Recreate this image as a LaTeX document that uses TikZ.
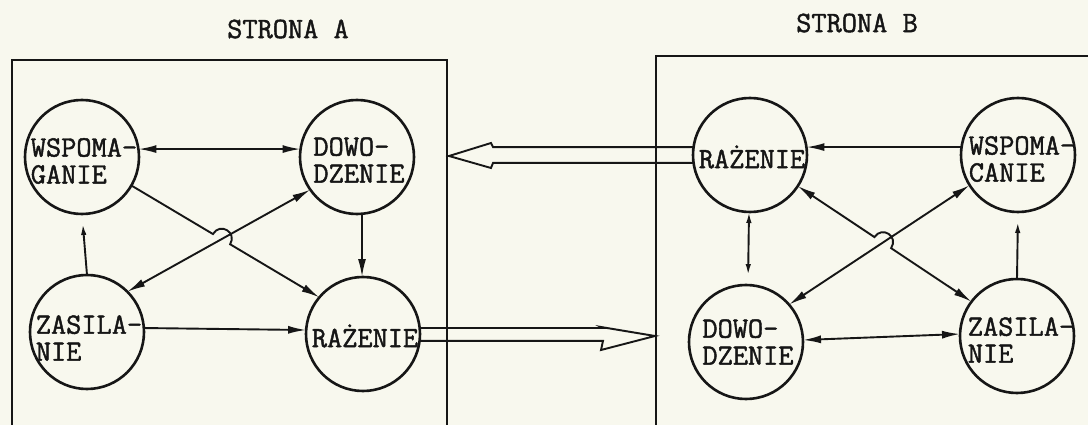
\documentclass[tikz,border=0pt]{standalone}
\usepackage{fontspec}
\newfontfamily\typewr[FakeBold=1.5]{Latin Modern Mono}
\usetikzlibrary{arrows.meta,calc,intersections}
\definecolor{paper}{RGB}{248,248,238}
\definecolor{ink}{RGB}{22,22,22}
\tikzset{
  circ/.style={circle,draw=ink,line width=2.6pt,minimum size=114pt,inner sep=0pt,outer sep=0pt},
  lbl/.style={font=\fontsize{29.5}{27}\selectfont\typewr,text=ink,align=left,inner sep=0pt},
  frame/.style={draw=ink,line width=2.7pt},
  conn/.style={draw=ink,line width=1.9pt},
  hollow/.style={draw=ink,line width=1.9pt,line join=miter},
  >={Latex[length=18pt,width=8pt]},
  small/.style={>={Latex[length=11pt,width=5.5pt]}},
}
\begin{document}
\begin{tikzpicture}[x=1pt,y=-1pt]
\fill[paper] (0,0) rectangle (1088,425);
\useasboundingbox (0,0) rectangle (1088,425);

% titles
\node[lbl] (tA) at (288,29) {STRONA A};
\node[lbl] (tB) at (857,23) {STRONA B};

% frames
\draw[frame] (12,430) -- (12,60) -- (447,60) -- (447,430);
\draw[frame] (656,430) -- (656,56) -- (1092,56);

% side A circles
\node[circ] (wspA)  at (82,157)  {};
\node[circ] (dowoA) at (357,157) {};
\node[circ] (zasA)  at (87,332)  {};
\node[circ] (razA)  at (363,334) {};
\node[lbl] (wspAt)  at (84,161)  {WSPOMA-\\GANIE};
\node[lbl] (dowoAt) at (359,160) {DOWO-\\DZENIE};
\node[lbl] (zasAt)  at (89,338)  {ZASILA-\\NIE};
\node[lbl] (razAt)  at (365,336) {RAŻENIE};

% side B circles
\node[circ] (razB)  at (750,155) {};
\node[circ] (wspB)  at (1018,155) {};
\node[circ] (dowoB) at (746,342) {};
\node[circ] (zasB)  at (1017,336) {};
\node[lbl] (razBt)  at (752,157) {RAŻENIE};
\node[lbl] (wspBt)  at (1022,159) {WSPOMA-\\CANIE};
\node[lbl] (dowoBt) at (748,342) {DOWO-\\DZENIE};
\node[lbl] (zasBt)  at (1021,340) {ZASILA-\\NIE};

% side A connectors
\draw[conn,<->] (wspA.8) -- (dowoA.172);
\draw[conn,<->] (dowoA.215) -- (zasA.45);
\draw[conn,->] (dowoA.-85) -- (razA.91);
\draw[conn,->] (zasA.4) -- (razA.176);
\draw[conn,small,->,shorten >=10pt] (zasA.north) -- (wspA.south);
\path[name path=la1] (wspA.-30) -- (razA.140);
\path[name path=la2] (dowoA.215) -- (zasA.45);
\path[name intersections={of=la1 and la2,by=xA}];
\coordinate (hA1) at ($(xA)!10pt!(wspA.-30)$);
\coordinate (hA2) at ($(xA)!10pt!(razA.140)$);
\coordinate (cA1) at ($(hA1)!14pt!90:(xA)$);
\coordinate (cA2) at ($(hA2)!14pt!-90:(xA)$);
\draw[conn,->] (wspA.-30) -- (hA1) .. controls (cA1) and (cA2) .. (hA2) -- (razA.140);

% side B connectors
\draw[conn,->] (wspB.172) -- (razB.8);
\draw[conn,<->] (dowoB.41) -- (wspB.212);
\draw[conn,<->] (dowoB.2) -- (zasB.178);
\draw[conn,small,<->,shorten >=10pt] (razB.-91) -- (dowoB.88);
\draw[conn,small,->,shorten >=10pt] (zasB.north) -- (wspB.south);
\path[name path=lb1] (razB.-33) -- (zasB.143);
\path[name path=lb2] (dowoB.41) -- (wspB.212);
\path[name intersections={of=lb1 and lb2,by=xB}];
\coordinate (hB1) at ($(xB)!10pt!(razB.-33)$);
\coordinate (hB2) at ($(xB)!10pt!(zasB.143)$);
\coordinate (cB1) at ($(hB1)!14pt!90:(xB)$);
\coordinate (cB2) at ($(hB2)!14pt!-90:(xB)$);
\draw[conn,<->] (razB.-33) -- (hB1) .. controls (cB1) and (cB2) .. (hB2) -- (zasB.143);

% hollow arrows between sides
\coordinate (tipA) at (449,156);
\draw[hollow] (razB.172) -- ($(razB.172 -| tipA)+(44,0)$) -- ($(tipA)+(42,-13)$) -- (tipA)
  -- ($(tipA)+(42,12)$) -- ($(razB.188 -| tipA)+(44,0)$) -- (razB.188);
\coordinate (tipB) at (655,336);
\draw[hollow] (razA.6) -- ($(razA.6 -| tipB)+(-52,0)$) -- ($(tipB)+(-54,-9)$) -- (tipB)
  -- ($(tipB)+(-54,14)$) -- ($(razA.-7 -| tipB)+(-52,0)$) -- (razA.-7);
\end{tikzpicture}
\end{document}
